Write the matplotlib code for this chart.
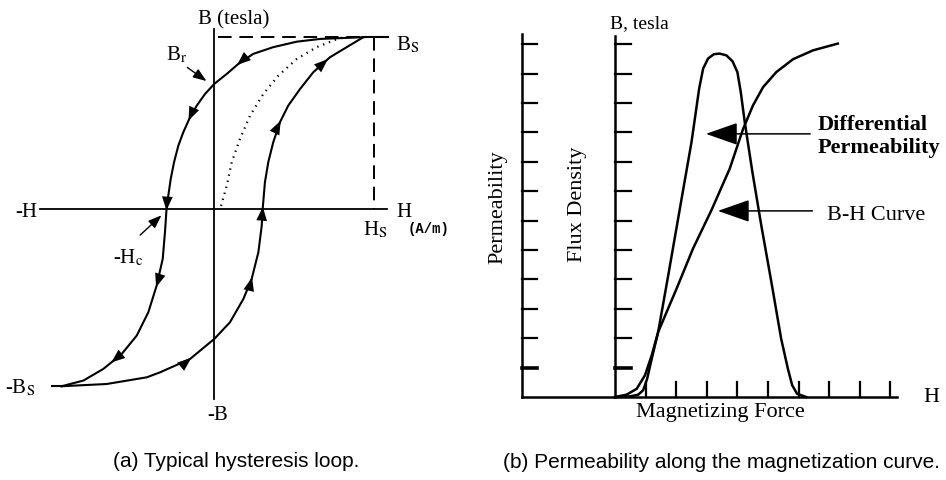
import numpy as np
import matplotlib.pyplot as plt
from matplotlib.patches import FancyArrowPatch

plt.rcParams['mathtext.fontset'] = 'stix'
SERIF = 'Liberation Serif'

# ---- (a) hysteresis loop, H in units of Hs, B in units of Bs ----
desc_H = [0.933, 0.662, 0.516, 0.369, 0.244, 0.150, 0.078, 0.0, -0.058, -0.110,
          -0.157, -0.194, -0.225, -0.252, -0.273, -0.288, -0.299, -0.309, -0.323,
          -0.361, -0.413, -0.486, -0.580, -0.695, -0.820, -0.956]
desc_B = [1.0, 0.990, 0.974, 0.942, 0.903, 0.844, 0.786, 0.728, 0.669, 0.601,
          0.523, 0.446, 0.368, 0.271, 0.173, 0.076, 0.0, -0.138, -0.293,
          -0.449, -0.604, -0.741, -0.848, -0.935, -1.003, -1.036]
asc_H = [-0.956, -0.674, -0.423, -0.340, -0.152, 0.0, 0.098, 0.182, 0.234, 0.276,
         0.297, 0.303, 0.317, 0.338, 0.369, 0.411, 0.463, 0.537, 0.620, 0.724,
         0.829, 0.933]
asc_B = [-1.036, -1.023, -0.984, -0.955, -0.877, -0.760, -0.663, -0.527, -0.410,
         -0.254, -0.099, 0.0, 0.154, 0.271, 0.387, 0.504, 0.601, 0.698, 0.796,
         0.883, 0.942, 1.0]
init_H = [0.042, 0.078, 0.109, 0.161, 0.224, 0.307, 0.401, 0.516, 0.641, 0.787, 0.856]
init_B = [0.016, 0.134, 0.271, 0.407, 0.543, 0.669, 0.776, 0.873, 0.942, 0.996, 1.0]

H_SAT = 1.0
B_SAT = 1.0
B_NEG_SAT = -1.036

# where the direction arrows sit on each branch (point index, may be fractional)
desc_arrows = [5, 10, 16, 19, 22.5]
asc_arrows = [4, 8, 11, 15, 18.8]

# ---- (b) permeability and B-H curve, in tick units ----
bh_H = [0, 0.38, 0.71, 0.98, 1.20, 1.41, 2.01, 2.55, 3.15, 3.75, 4.18, 4.51, 4.84,
        5.27, 5.82, 6.47, 7.28]
bh_B = [0, 0.08, 0.28, 0.74, 1.42, 2.21, 3.68, 5.05, 6.35, 7.77, 9.10, 9.92, 10.54,
        11.05, 11.49, 11.79, 12.02]
mu_H = [0, 0.49, 0.76, 0.92, 1.05, 1.20, 1.41, 1.74, 2.12, 2.50, 2.75, 2.88, 3.04,
        3.23, 3.42, 3.64, 3.84, 4.00, 4.11, 4.24, 4.49, 4.78, 5.11, 5.43, 5.65, 5.79,
        5.95, 6.25]
mu_B = [0, 0.02, 0.08, 0.23, 0.62, 1.30, 2.21, 4.14, 6.41, 8.67, 10.49, 11.17, 11.51,
        11.66, 11.68, 11.62, 11.42, 11.05, 10.37, 9.35, 7.65, 5.84, 3.91, 1.98, 0.96,
        0.40, 0.11, 0]
b_ticks = list(range(1, 13))
h_ticks = list(range(1, 10))

fig = plt.figure(figsize=(9.46, 4.81), dpi=100)
k = 'black'
tf = dict(family=SERIF, color=k)
cap = dict(family='Liberation Sans', color=k, fontsize=15)

# left panel
ax1 = fig.add_axes([0, 0, 0.5, 1])
ax1.set_xlim(-1.342, 1.620)
ax1.set_ylim(-1.583, 1.223)
ax1.axis('off')

ax1.plot([0, 0], [-1.110, 1.048], color=k, lw=1.3)
ax1.plot([-1.091, 1.081], [0, 0], color=k, lw=1.3)
ax1.plot(desc_H, desc_B, color=k, lw=1.5, solid_joinstyle='round')
ax1.plot(asc_H, asc_B, color=k, lw=1.5, solid_joinstyle='round')
ax1.plot(init_H, init_B, color=k, lw=1.6, linestyle=(0, (0.6, 2.2)))
ax1.plot([0.023, desc_H[0]], [B_SAT, B_SAT], color=k, lw=1.4, linestyle=(0, (7, 4)))
ax1.plot([H_SAT, H_SAT], [B_SAT, 0], color=k, lw=1.4, linestyle=(0, (7, 4)))
ax1.plot([desc_H[0], 1.088], [B_SAT, B_SAT], color=k, lw=1.5)
ax1.plot([-1.016, asc_H[0]], [B_NEG_SAT, B_NEG_SAT], color=k, lw=1.5)


def head(ax, xs, ys, t):
    i = int(t)
    f = t - i
    x0 = xs[i] + f * (xs[i + 1] - xs[i])
    y0 = ys[i] + f * (ys[i + 1] - ys[i])
    dx, dy = xs[i + 1] - xs[i], ys[i + 1] - ys[i]
    d = np.hypot(dx, dy)
    e = 0.01
    p = FancyArrowPatch((x0 - e * dx / d, y0 - e * dy / d),
                        (x0 + e * dx / d, y0 + e * dy / d),
                        arrowstyle='-|>,head_length=0.9,head_width=0.35',
                        mutation_scale=11, color=k, lw=0)
    ax.add_patch(p)


for t in desc_arrows:
    head(ax1, desc_H, desc_B, t)
for t in asc_arrows:
    head(ax1, asc_H, asc_B, t)

ax1.text(0.123, 1.107, 'B (tesla)', fontsize=15, ha='center', va='center', **tf)
ax1.text(1.138, 0.932, r'B$_\mathrm{S}$', fontsize=15, ha='left', va='baseline', **tf)
ax1.text(-0.302, 0.873, r'B$_\mathrm{r}$', fontsize=15, ha='left', va='baseline', **tf)
ax1.text(-1.248, -0.043, '-H', fontsize=15, ha='left', va='baseline', **tf)
ax1.text(1.138, -0.043, 'H', fontsize=15, ha='left', va='baseline', **tf)
ax1.text(0.931, -0.148, r'H$_\mathrm{S}$', fontsize=15, ha='left', va='baseline', **tf)
ax1.text(-0.634, -0.311, r'-H$_\mathrm{c}$', fontsize=15, ha='left', va='baseline', **tf)
ax1.text(-1.311, -1.070, r'-B$_\mathrm{S}$', fontsize=15, ha='left', va='baseline', **tf)
ax1.text(0.023, -1.227, '-B', fontsize=15, ha='center', va='baseline', **tf)
ax1.text(1.213, -0.136, '(A/m)', fontsize=10, ha='left', va='baseline',
         family='Liberation Mono', fontweight='bold', color=k)

for a, b in [((-0.183, 0.833), (-0.035, 0.735)), ((-0.477, -0.165), (-0.318, -0.028))]:
    ax1.annotate('', xy=b, xytext=a,
                 arrowprops=dict(arrowstyle='-|>,head_length=0.8,head_width=0.3',
                                 mutation_scale=10, color=k, lw=1.0))

ax1.text((236 - 214.3) / 159.7, (209.7 - 462) / 171.4, '(a) Typical hysteresis loop.',
         ha='center', va='center', **cap)

# right panel
ax2 = fig.add_axes([0.5, 0, 0.5, 1])
ax2.set_xlim(-4.641, 10.817)
ax2.set_ylim(-2.823, 13.537)
ax2.axis('off')

PERM_X = -3.04
ax2.plot([PERM_X, PERM_X], [0, 12.35], color=k, lw=1.8)
ax2.plot([0, 0], [0, 12.29], color=k, lw=1.8)
ax2.plot([PERM_X, 9.22], [0, 0], color=k, lw=1.8)
for b in b_ticks:
    w = 2.6 if b == 1 else 1.6
    ax2.plot([PERM_X, PERM_X + 0.49], [b, b], color=k, lw=w)
    ax2.plot([0, 0.52], [b, b], color=k, lw=w)
for h in h_ticks:
    ax2.plot([h, h], [0, 0.51], color=k, lw=1.6)

ax2.plot(mu_H, mu_B, color=k, lw=1.8, solid_joinstyle='round')
ax2.plot(bh_H, bh_B, color=k, lw=1.8, solid_joinstyle='round')

big = dict(arrowstyle='-|>,head_length=1.0,head_width=0.35', mutation_scale=20,
           color=k, lw=1.1)
ax2.annotate('', xy=(2.88, 8.95), xytext=(6.47, 8.95), arrowprops=big)
ax2.annotate('', xy=(3.27, 6.33), xytext=(6.54, 6.33), arrowprops=big)

ax2.text(-0.16, 12.59, 'B, tesla', fontsize=14, ha='left', va='baseline', **tf)
ax2.text(-3.82, 6.50, 'Permeability', fontsize=16, rotation=90, ha='center',
         va='center', **tf)
ax2.text(-1.21, 6.60, 'Flux Density', fontsize=16, rotation=90, ha='center',
         va='center', **tf)
ax2.text(6.63, 9.12, 'Differential', fontsize=16, fontweight='bold', ha='left',
         va='baseline', **tf)
ax2.text(6.63, 8.33, 'Permeability', fontsize=16, fontweight='bold', ha='left',
         va='baseline', **tf)
ax2.text(6.93, 6.05, 'B-H Curve', fontsize=16, ha='left', va='baseline', **tf)
ax2.text(10.07, -0.14, 'H', fontsize=16, ha='left', va='baseline', **tf)
ax2.text(3.43, -0.65, 'Magnetizing Force', fontsize=16, ha='center', va='baseline', **tf)

ax2.text((503 - 615) / 30.6, (398 - 462) / 29.4,
         '(b) Permeability along the magnetization curve.', ha='left',
         va='center', clip_on=False, **cap)

fig.savefig('out.png', dpi=100)
